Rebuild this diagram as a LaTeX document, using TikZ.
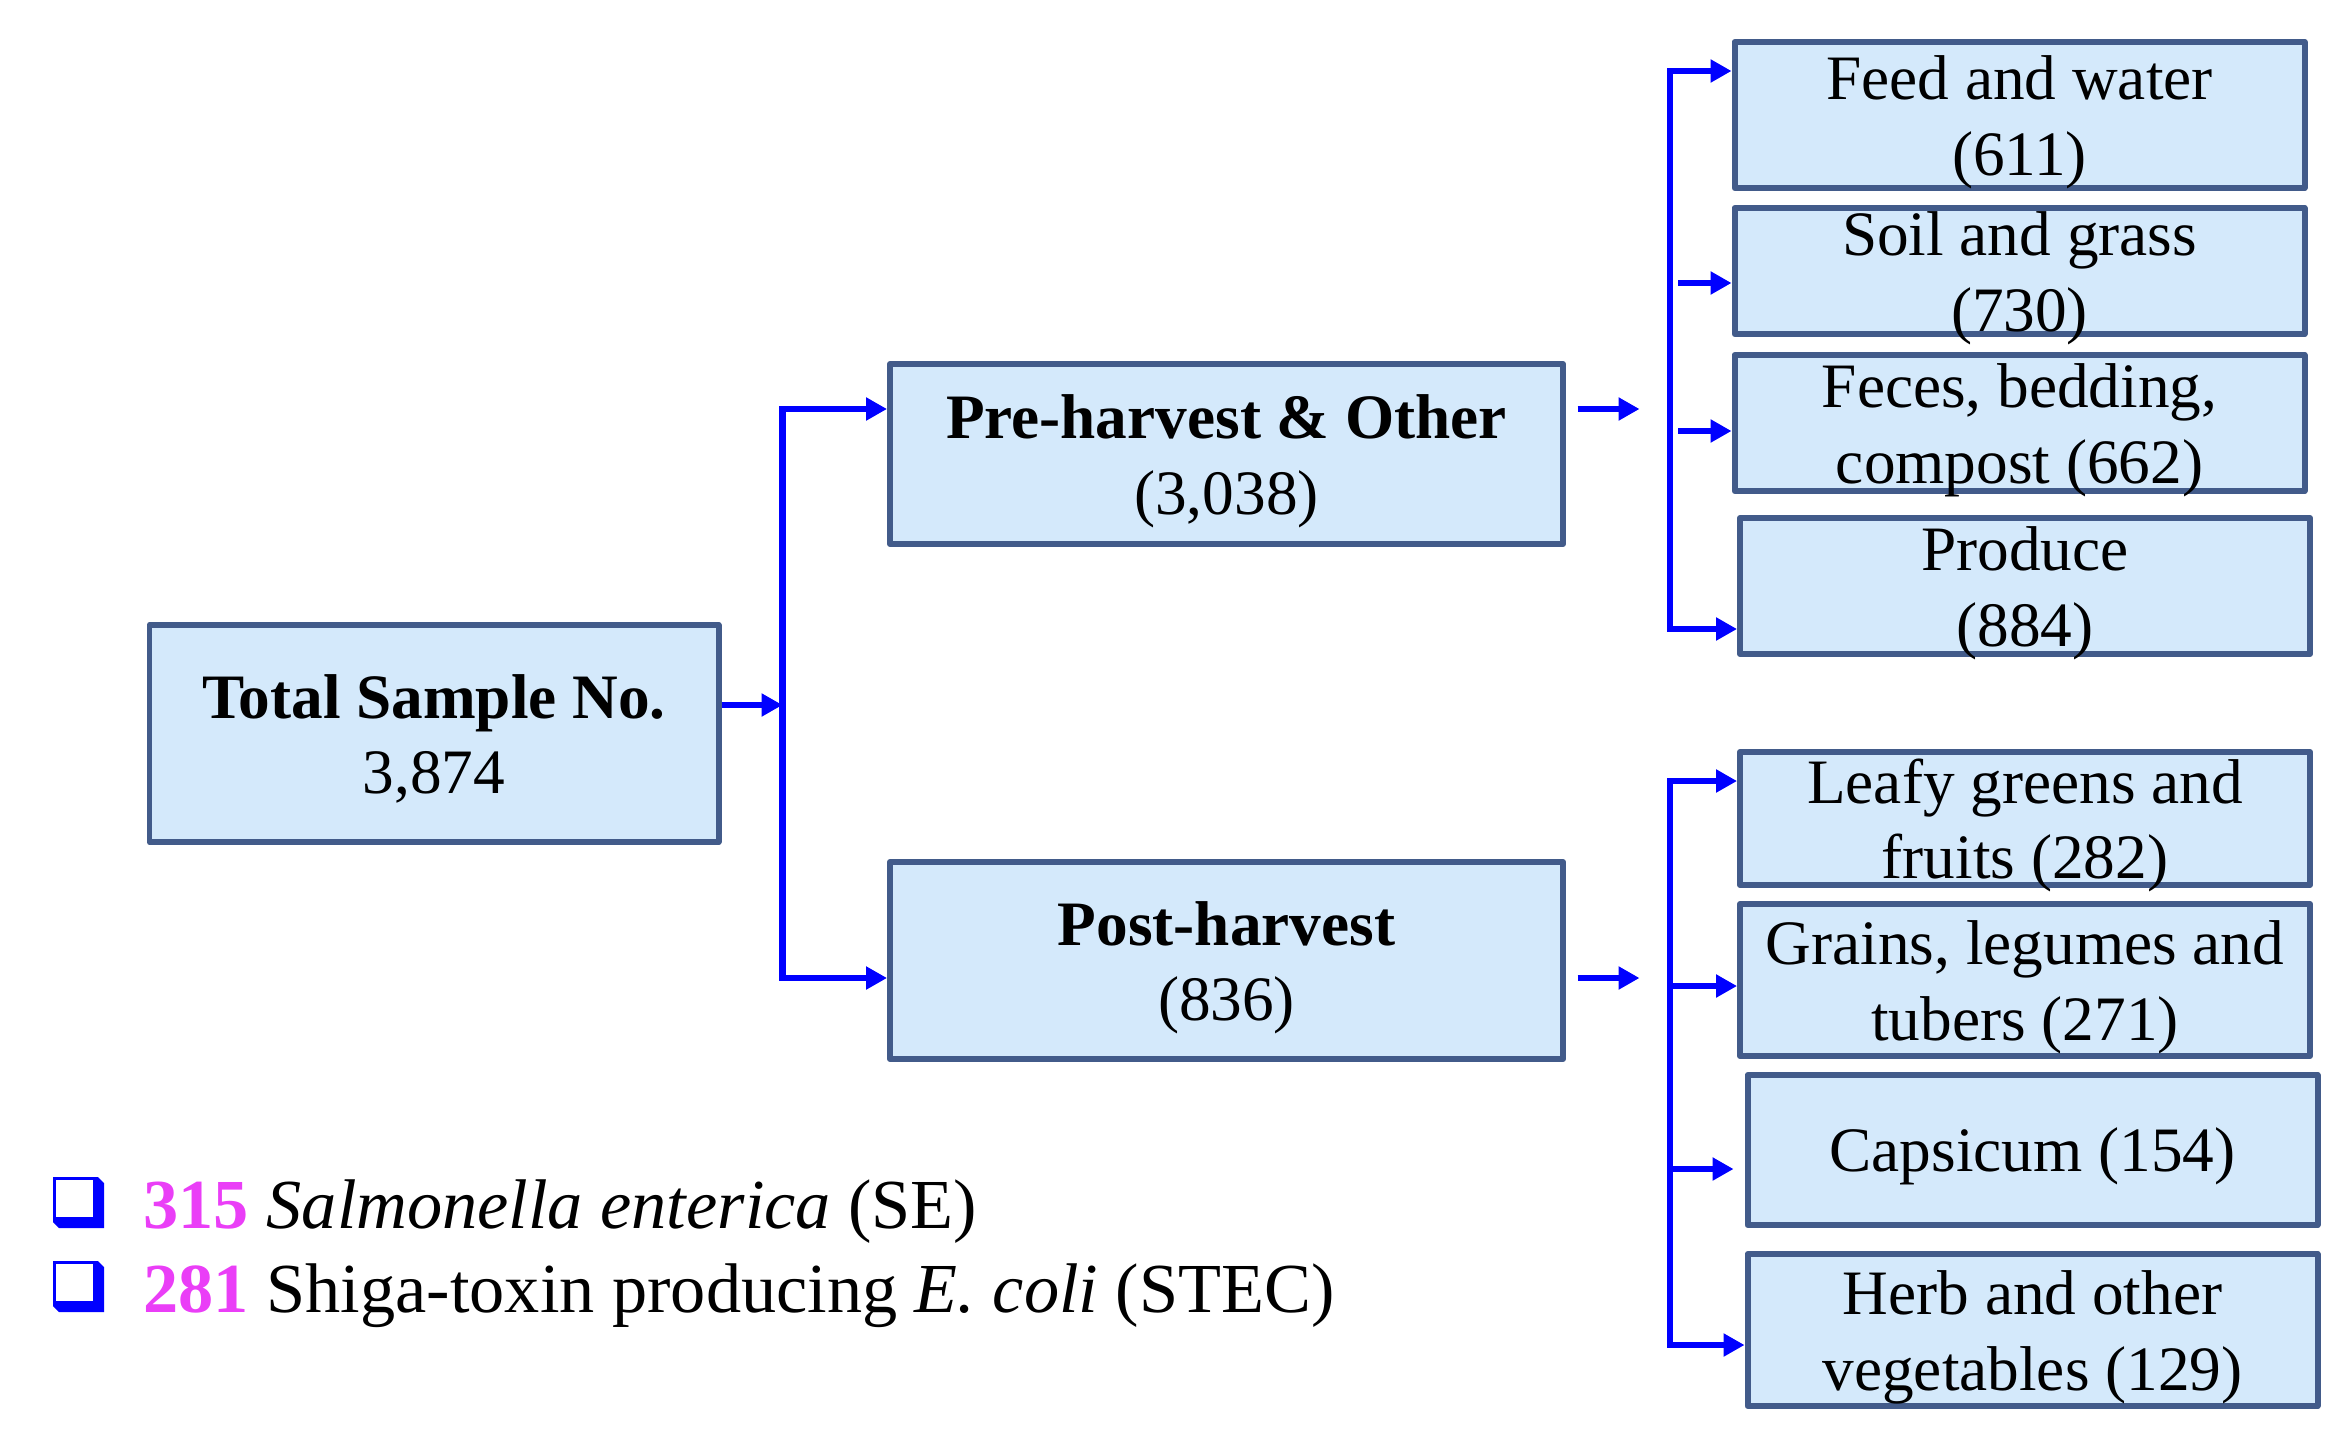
\documentclass[tikz,border=0pt]{standalone}
\usepackage{fontspec}
\setmainfont{Liberation Serif}
\usepackage{tikz}
\usetikzlibrary{positioning,arrows.meta,calc}
\definecolor{boxline}{RGB}{66,91,138}
\definecolor{boxfill}{RGB}{212,233,251}
\definecolor{numpink}{RGB}{234,62,247}

\begin{document}
\begin{tikzpicture}[>={Triangle[length=2.1mm,width=2.2mm]}]

\useasboundingbox (0,0) rectangle (23.48,-14.32);

\tikzset{
  catbox/.style={draw=boxline, fill=boxfill, line width=1.7pt, line join=round,
                 minimum width=5.70cm, align=center, inner sep=0pt,
                 font=\fontsize{18}{21.6}\selectfont,
                 text height=#1, text depth=0pt},
  catbox/.default=34.4pt,
  arr/.style={->, draw=blue, line width=1.8pt},
  legtext/.style={anchor=base west, inner sep=0pt, font=\fontsize{20}{24}\selectfont},
  sqmark/.pic={
    \fill[blue] (0,0.51) -- (0.45,0.51) -- (0.51,0.45) -- (0.51,0) -- (0.06,0) -- (0,0.06) -- cycle;
    \fill[white] (0.03,0.11) rectangle (0.40,0.48);
  }
}

\node[catbox, minimum width=5.69cm, minimum height=2.17cm] (total) at (4.34,-7.335) {\textbf{Total Sample No.}\\3,874};

\node[catbox, minimum width=6.73cm, minimum height=1.80cm] (pre)  at (12.265,-4.54)  {\textbf{Pre-harvest \& Other}\\(3,038)};
\node[catbox, minimum width=6.73cm, minimum height=1.97cm] (post) at (12.265,-9.605) {\textbf{Post-harvest}\\(836)};

\node[catbox, minimum height=1.46cm] (feed)    at (20.195,-1.15) {Feed and water\\(611)};
\node[catbox, minimum height=1.26cm] (soil)    at (20.195,-2.71) {Soil and grass\\(730)};
\node[catbox, minimum height=1.36cm] (feces)   at (20.195,-4.23) {Feces, bedding,\\compost (662)};
\node[catbox, minimum height=1.36cm] (produce) at (20.25,-5.86)  {Produce\\(884)};

\node[catbox, minimum height=1.33cm] (leafy)    at (20.25,-8.185)  {Leafy greens and\\fruits (282)};
\node[catbox, minimum height=1.52cm] (grains)   at (20.25,-9.80)   {Grains, legumes and\\tubers (271)};
\node[catbox=12pt, minimum height=1.50cm] (capsicum) at (20.325,-11.50) {Capsicum (154)};
\node[catbox, minimum height=1.52cm] (herb)     at (20.325,-13.30) {Herb and other\\vegetables (129)};

\coordinate (bus)    at (7.825,-7.05);
\coordinate (bustop) at (7.825,-4.09);
\coordinate (busbot) at (7.825,-9.78);

\draw[arr] (total.east |- bus) -- (bus);
\draw[arr, <->] (bustop -| pre.west) -- (bustop) -- (busbot) -- (busbot -| post.west);

\draw[arr] ($(pre.east |- bustop)+(0.115,0)$) -- ++(0.62,0);
\draw[arr] ($(post.east |- busbot)+(0.115,0)$) -- ++(0.62,0);

\coordinate (uptop) at (16.70,-0.71);
\coordinate (upbot) at (16.70,-6.29);
\draw[arr, <->] (uptop -| feed.west) -- (uptop) -- (upbot) -- (upbot -| produce.west);
\coordinate (soilin)  at (16.78,-2.83);
\coordinate (fecesin) at (16.78,-4.31);
\draw[arr] (soilin) -- (soilin -| soil.west);
\draw[arr] (fecesin) -- (fecesin -| feces.west);

\coordinate (lowtop) at (16.70,-7.81);
\coordinate (lowbot) at (16.70,-13.45);
\draw[arr, <->] (lowtop -| leafy.west) -- (lowtop) -- (lowbot) -- (lowbot -| herb.west);
\coordinate (grainsin)   at (16.70,-9.86);
\coordinate (capsicumin) at (16.70,-11.69);
\draw[arr] (grainsin) -- (grainsin -| grains.west);
\draw[arr] (capsicumin) -- ($(capsicumin -| capsicum.west)+(-0.11,0)$);

\pic at (0.53,-12.28) {sqmark};
\pic at (0.53,-13.12) {sqmark};
\node[legtext] (se)   at (1.43,-12.28) {\textcolor{numpink}{\textbf{315}} \textit{Salmonella enterica} (SE)};
\node[legtext] (stec) at (1.43,-13.12) {\textcolor{numpink}{\textbf{281}} Shiga-toxin producing \textit{E. coli} (STEC)};

\end{tikzpicture}
\end{document}
